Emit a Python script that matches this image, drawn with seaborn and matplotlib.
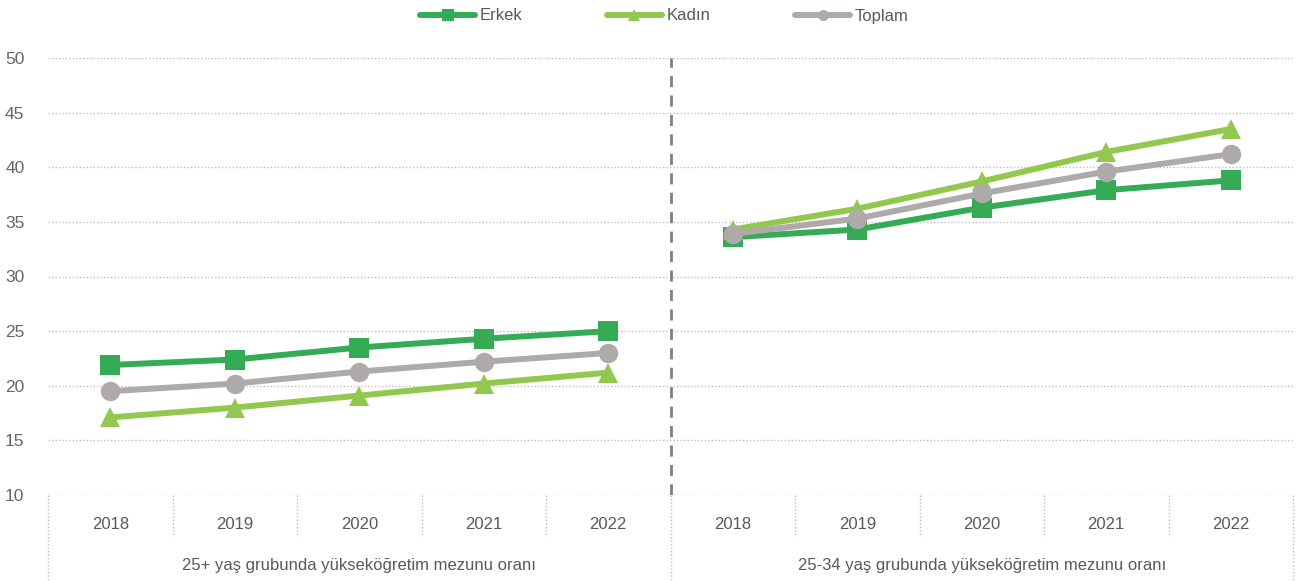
import matplotlib
matplotlib.use("Agg")
import matplotlib.pyplot as plt
import matplotlib.transforms as mtransforms
from matplotlib import font_manager
from matplotlib.lines import Line2D
import pandas as pd
import seaborn as sns

# values
years = ["2018", "2019", "2020", "2021", "2022"]
groups = ["25+ yaş grubunda yükseköğretim mezunu oranı",
          "25-34 yaş grubunda yükseköğretim mezunu oranı"]
series = ["Erkek", "Kadın", "Toplam"]

erkek_25 = [21.9, 22.4, 23.5, 24.3, 25.0]
kadin_25 = [17.1, 18.0, 19.1, 20.2, 21.2]
toplam_25 = [19.5, 20.2, 21.3, 22.2, 23.0]

erkek_2534 = [33.6, 34.3, 36.3, 37.9, 38.8]
kadin_2534 = [34.3, 36.2, 38.7, 41.4, 43.5]
toplam_2534 = [33.9, 35.3, 37.6, 39.6, 41.2]

colors = {"Erkek": "#34AB54", "Kadın": "#92C84F", "Toplam": "#AFAAAA"}
markers = {"Erkek": "s", "Kadın": "^", "Toplam": "o"}
text_color = "#595959"

# build a long table
rows = []
values = {
    groups[0]: {"Erkek": erkek_25, "Kadın": kadin_25, "Toplam": toplam_25},
    groups[1]: {"Erkek": erkek_2534, "Kadın": kadin_2534, "Toplam": toplam_2534},
}
for gi, g in enumerate(groups):
    for s in series:
        for yi, y in enumerate(years):
            rows.append({"group": g, "series": s, "year": y,
                         "pos": gi * len(years) + yi, "value": values[g][s][yi]})
df = pd.DataFrame(rows)

sns.set_style("white")
names = {f.name for f in font_manager.fontManager.ttflist}
family = "Liberation Sans Narrow" if "Liberation Sans Narrow" in names else "Liberation Sans"
plt.rcParams["font.family"] = [family, "DejaVu Sans"]

fig = plt.figure(figsize=(12.97, 5.81), dpi=100)
ax = fig.add_axes([48 / 1297, 1 - 495 / 581, (1293 - 48) / 1297, (495 - 58) / 581])

for g in groups:
    sub = df[df["group"] == g]
    sns.lineplot(data=sub, x="pos", y="value", hue="series", style="series",
                 palette=colors, markers=markers, dashes=False, linewidth=4.3,
                 markersize=14, markeredgewidth=0, legend=False, ax=ax,
                 hue_order=series, style_order=series)

ax.set_xlim(-0.5, 9.5)
ax.set_ylim(10, 50)
ax.set_yticks(range(10, 51, 5))
ax.set_xlabel("")
ax.set_ylabel("")
for sp in ax.spines.values():
    sp.set_visible(False)
ax.grid(axis="y", color="#BFBFBF", linestyle=(0, (1, 1.5)), linewidth=1)
ax.set_axisbelow(True)

ax.tick_params(axis="y", length=0, pad=17, labelsize=12.5, labelcolor="#666666")
ax.set_xticks(range(10))
ax.set_xticklabels(years * 2)
ax.tick_params(axis="x", length=0, pad=16, labelsize=12, labelcolor=text_color)

# divider between the two groups
ax.axvline(4.5, color="#7F7F7F", linestyle=(0, (4, 3)), linewidth=2)

# category separators and group labels below the axis
trans = mtransforms.blended_transform_factory(ax.transData, ax.transAxes)
for b in range(11):
    x = b - 0.5
    bottom = -0.197 if b in (0, 5, 10) else -0.096
    ax.plot([x, x], [0, bottom], transform=trans, clip_on=False,
            color="#BFBFBF", linestyle=(0, (1, 1.5)), linewidth=1)
for gi, g in enumerate(groups):
    ax.text(gi * 5 + 2, -0.162, g, transform=trans, ha="center", va="center",
            fontsize=12, color=text_color)

handles = [Line2D([], [], color=colors[s], marker=markers[s], linewidth=4.3,
                  markersize=8, markeredgewidth=0, solid_capstyle="round")
           for s in series]
fig.legend(handles, series, loc="center", bbox_to_anchor=(0.512, 1 - 16 / 581),
           ncol=3, frameon=False, fontsize=12, labelcolor=text_color,
           handlelength=3.3, handletextpad=0.25, columnspacing=5.1)

fig.savefig("out.png", dpi=100)
